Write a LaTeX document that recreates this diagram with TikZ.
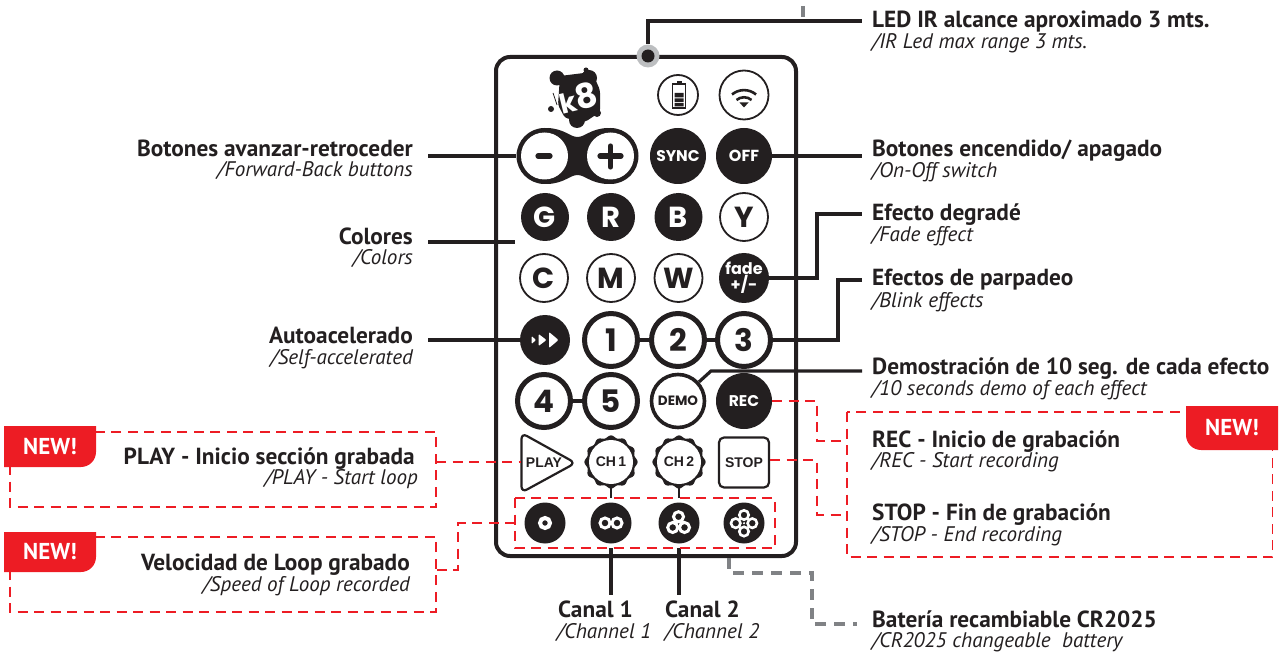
\documentclass[tikz,border=0pt]{standalone}
\usepackage{fontspec}
\setmainfont{PT Sans}
\newfontfamily\btnfont{Poppins}
\newfontfamily\arialfont{Liberation Sans}
\definecolor{inkdark}{HTML}{231F20}
\definecolor{newred}{HTML}{ED1C24}
\definecolor{midgrey}{HTML}{808285}
\definecolor{ledgrey}{HTML}{BCBEC0}
\tikzset{
  lead/.style={draw=inkdark,line width=3.2},
  redlead/.style={draw=newred,line width=1.8,dash pattern=on 10 off 6.5},
  greylead/.style={draw=midgrey,line width=3.6,dash pattern=on 11 off 8},
  headl/.style={inner sep=0,anchor=base east,text=inkdark,font=\fontsize{23.3}{25}\selectfont\bfseries},
  subl/.style={inner sep=0,anchor=base east,text=inkdark,font=\fontsize{21.1}{23}\selectfont\itshape},
  headr/.style={headl,anchor=base west},
  subr/.style={subl,anchor=base west},
  newtag/.style={inner sep=0,text=white,font=\fontsize{23}{25}\selectfont\bfseries},
  btn/.style={circle,inner sep=0,minimum size=#1,font=\btnfont\bfseries},
  solidbtn/.style={btn=#1,fill=inkdark,text=white},
  thinbtn/.style={btn=#1,draw=inkdark,line width=1.8,text=inkdark,fill=white},
  fatbtn/.style={btn=#1,draw=inkdark,line width=5,text=inkdark,fill=white},
  ringw/.style={draw=white,line width=3},
  keyfont/.style={font=\btnfont\bfseries\fontsize{29}{29}\selectfont},
  digitfont/.style={font=\btnfont\bfseries\fontsize{31}{31}\selectfont},
  dialfont/.style={inner sep=0,text=inkdark,font=\arialfont\bfseries\fontsize{14}{14}\selectfont},
}
\begin{document}
\begin{tikzpicture}[x=1pt,y=-1pt]
\useasboundingbox (0,0) rectangle (1280,652);

% Remote body
\draw[inkdark,line width=4,rounded corners=14] (496,57) rectangle (796,556);
\draw[midgrey,line width=4] (802.5,6) -- (802.5,17);

% IR led
\node[circle,fill=ledgrey,minimum size=23,inner sep=0] (ledring) at (648,56) {};
\node[circle,fill=inkdark,minimum size=13,inner sep=0] (led) at (648,56) {};
\coordinate (ledend) at (862,21);
\draw[lead] (ledring) |- (ledend);

% Logo
\fill[inkdark] (557,78) circle (7.5) (589,78) circle (8) (586,70) circle (2.5)
  (551,109) circle (3) (597,113) circle (4) (577,120) circle (8);
\fill[inkdark,rounded corners=3] (560,76) -- (592,72) -- (600,90) -- (600,112) -- (585,122) -- (565,118) -- (558,105) -- cycle;
\draw[inkdark,line width=.8] (553,93) -- (557,105);
\node[text=white,rotate=14,inner sep=0,font=\btnfont\bfseries] (logo) at (578.5,98) {\fontsize{27}{27}\selectfont k\fontsize{34}{34}\selectfont 8};

% Battery and signal
\node[thinbtn=40] (battery) at (678,95) {};
\draw[inkdark,line width=1.2] (672.5,84) rectangle (685.5,108);
\fill[inkdark] (676.5,81.5) rectangle (681.5,84);
\fill[inkdark] (674.5,93) rectangle (683.5,97.5) (674.5,98.5) rectangle (683.5,102) (674.5,103) rectangle (683.5,106.5);
\node[thinbtn=49] (signal) at (744,95) {};
\draw[inkdark,line width=2.6] (732,94.5) arc[start angle=-130,end angle=-50,radius=18.7];
\draw[inkdark,line width=2.6] (736.5,100) arc[start angle=-130,end angle=-50,radius=11.7];
\fill[inkdark] (739.5,102.5) -- (748.5,102.5) -- (744,107.5) -- cycle;

% Forward and back
\fill[inkdark] (548,128) .. controls (565,129) and (570,137) .. (577.5,137) .. controls (585,137) and (590,129) .. (607,128)
  -- (607,184) .. controls (590,183) and (585,175) .. (577.5,175) .. controls (570,175) and (565,183) .. (548,184) -- cycle;
\node[circle,fill=inkdark,minimum size=56,inner sep=0] (minus) at (544.5,156) {};
\node[circle,fill=inkdark,minimum size=56,inner sep=0] (plus) at (610.5,156) {};
\fill[white] (minus) circle (23.5) (plus) circle (23.5);
\draw[inkdark,line width=5.2,line cap=round] (538,156) -- (550,156);
\draw[inkdark,line width=5.2,line cap=round] (600,156) -- (621,156) (610.5,146) -- (610.5,167);
\node[solidbtn=56,font=\btnfont\bfseries\fontsize{15.5}{16}\selectfont] (sync) at (678,156) {SYNC};
\node[solidbtn=56,font=\btnfont\bfseries\fontsize{16}{16}\selectfont] (off) at (744,156) {OFF};

% Colours
\node[solidbtn=48,keyfont] (gbtn) at (545,217) {G};
\node[solidbtn=48,keyfont] (rbtn) at (611,217) {R};
\node[solidbtn=48,keyfont] (bbtn) at (678.5,217) {B};
\node[thinbtn=48,keyfont] (ybtn) at (744,217) {Y};
\node[thinbtn=48,keyfont] (cbtn) at (544,278) {C};
\node[thinbtn=48,keyfont] (mbtn) at (611,278) {M};
\node[thinbtn=48,keyfont] (wbtn) at (678.5,278) {W};
\node[solidbtn=50,align=center,font=\btnfont\bfseries\fontsize{16}{15}\selectfont] (fade) at (744,278) {fade\\+/-};

% Blink effects
\draw[lead] (611,340) -- (744,340) (544,401) -- (611,401);
\node[solidbtn=50] (accel) at (545,340) {};
\fill[white,rounded corners=1] (531.5,336) -- (536,340) -- (531.5,344) -- cycle;
\fill[white,rounded corners=1] (538.5,334) -- (546.5,340) -- (538.5,346) -- cycle;
\fill[white,rounded corners=1] (549,332) -- (558.5,340) -- (549,348) -- cycle;
\node[fatbtn=53,digitfont] (one) at (611,340) {1};
\node[fatbtn=53,digitfont] (two) at (678,340) {2};
\node[fatbtn=53,digitfont] (three) at (744,340) {3};
\node[fatbtn=53,digitfont] (four) at (544,401) {4};
\node[fatbtn=53,digitfont] (five) at (611,401) {5};
\node[btn=53,draw=inkdark,line width=3.6,text=inkdark,fill=white,font=\btnfont\bfseries\fontsize{13.5}{14}\selectfont] (demo) at (678,401) {DEMO};
\node[solidbtn=56,font=\btnfont\bfseries\fontsize{15.5}{16}\selectfont] (rec) at (744,401) {REC};

% Loop row
\draw[inkdark,line width=2.2,rounded corners=6] (521.5,433) -- (575.5,463) -- (521.5,492.5) -- cycle;
\node[dialfont] (play) at (544,463) {PLAY};
\draw[lead,line width=2.8] (611,487) -- (611,498) (679,487) -- (679,498);
\fill[inkdark,shift={(611,462)}] plot[domain=0:360,samples=145,smooth] ({(25.4+1.2*cos(12*\x))*cos(\x)},{(25.4+1.2*cos(12*\x))*sin(\x)}) -- cycle;
\fill[inkdark,shift={(679,462)}] plot[domain=0:360,samples=145,smooth] ({(25.4+1.2*cos(12*\x))*cos(\x)},{(25.4+1.2*cos(12*\x))*sin(\x)}) -- cycle;
\node[circle,fill=white,minimum size=44,dialfont] (chone) at (611,462) {CH\,1};
\node[circle,fill=white,minimum size=44,dialfont] (chtwo) at (679,462) {CH\,2};
\node[draw=inkdark,line width=2.2,rounded corners=5,minimum width=50,minimum height=50,dialfont] (stop) at (744,462.5) {STOP};

% Speed buttons
\node[solidbtn=41] (speeda) at (545,523) {};
\node[solidbtn=41] (speedb) at (611,523) {};
\node[solidbtn=41] (speedc) at (679,523) {};
\node[solidbtn=41] (speedd) at (744,523) {};
\draw[ringw,line width=4] (545,523) circle (5);
\draw[ringw] (605,523) circle (5) (617,523) circle (5);
\draw[ringw] (678.5,516.7) circle (5) (672.7,527.5) circle (5) (684.5,527.5) circle (5);
\draw[ringw,line width=2.6] (744,515) circle (4.7) (735.7,523.2) circle (4.7) (752.3,523.2) circle (4.7) (744,531.5) circle (4.7);
\fill[white] (744,523.2) circle (1.2);

% Solid leaders
\coordinate (backend) at (428,156);
\coordinate (colourend) at (515,242);
\coordinate (colourstart) at (428,242);
\coordinate (offend) at (862,156);
\coordinate (fadeend) at (862,214);
\coordinate (blinkend) at (862,280);
\coordinate (accelend) at (428,340);
\coordinate (demoend) at (862,371);
\coordinate (demoknee) at (711,371);
\coordinate (chaend) at (611,595);
\coordinate (chbend) at (679,595);
\coordinate (chastart) at (611,548);
\coordinate (chbstart) at (679,548);
\draw[lead] (backend) -- (minus);
\draw[lead] (colourstart) -- (colourend);
\draw[lead] (off) -- (offend);
\draw[lead] (fade) -| (817,214) -- (fadeend);
\draw[lead] (three) -| (838,280) -- (blinkend);
\draw[lead] (accelend) -- (accel);
\draw[lead] (demo) -- (demoknee) -- (demoend);
\draw[lead] (chastart) -- (chaend);
\draw[lead] (chbstart) -- (chbend);

% Red leaders
\coordinate (playbox) at (436,462);
\coordinate (playtip) at (521,462);
\coordinate (speedbox) at (515,523);
\coordinate (speedlabel) at (436,570);
\coordinate (recbox) at (847,441);
\coordinate (stopbox) at (847,515);
\coordinate (stopout) at (770,460);
\draw[redlead] (playbox) -- (playtip);
\draw[redlead] (speedbox) -- (458,523) -- (458,570) -- (speedlabel);
\draw[redlead] (rec) -- (817,401) -- (817,441) -- (recbox);
\draw[redlead] (stopout) -- (817,460) -- (817,515) -- (stopbox);
\draw[redlead] (515,498) rectangle (775,548);
\draw[redlead] (10,432) rectangle (436,507);
\draw[redlead] (10,537) rectangle (436,612);
\draw[redlead] (847,412) rectangle (1272.5,557);

% Battery leader
\coordinate (cellend) at (857,624);
\draw[greylead] (729,558) -- (729,573) -- (812,573) -- (812,624) -- (cellend);

% New tags
\fill[newred] (4,426) -- (96,426) -- (96,452) arc[start angle=0,end angle=90,radius=15] -- (4,467) -- cycle;
\node[newtag] (newa) at (50,447) {NEW!};
\fill[newred] (4,532) -- (96,532) -- (96,557) arc[start angle=0,end angle=90,radius=15] -- (4,572) -- cycle;
\node[newtag] (newb) at (50,552) {NEW!};
\fill[newred] (1278,406) -- (1186,406) -- (1186,435) arc[start angle=180,end angle=90,radius=15] -- (1278,450) -- cycle;
\node[newtag] (newc) at (1232,428) {NEW!};

% Left labels
\node[headl] (backlabel) at (413,156.5) {Botones avanzar-retroceder};
\node[subl] (backsub) at (413,177) {/Forward-Back buttons};
\node[headl] (colourlabel) at (413,244.5) {Colores};
\node[subl] (coloursub) at (413,265) {/Colors};
\node[headl] (accellabel) at (413,343.5) {Autoacelerado};
\node[subl] (accelsub) at (413,364) {/Self-accelerated};
\node[headl] (playlabel) at (415,464) {PLAY - Inicio sección grabada};
\node[subl] (playsub) at (418,484.5) {/PLAY - Start loop};
\node[headl] (speedlabeltext) at (410,570) {Velocidad de Loop grabado};
\node[subl] (speedsub) at (410,591) {/Speed of Loop recorded};

% Right labels
\node[headr] (ledlabel) at (872,28) {LED IR alcance aproximado 3 mts.};
\node[subr] (ledsub) at (872,48.5) {/IR Led max range 3 mts.};
\node[headr] (offlabel) at (872,157) {Botones encendido/ apagado};
\node[subr] (offsub) at (872,177.5) {/On-Off switch};
\node[headr] (fadelabel) at (872,221) {Efecto degradé};
\node[subr] (fadesub) at (872,241.5) {/Fade effect};
\node[headr] (blinklabel) at (872,286) {Efectos de parpadeo};
\node[subr] (blinksub) at (872,307.5) {/Blink effects};
\node[headr] (demolabel) at (872,374) {Demostración de 10 seg. de cada efecto};
\node[subr] (demosub) at (872,395) {/10 seconds demo of each effect};
\node[headr] (reclabel) at (872,447) {REC - Inicio de grabación};
\node[subr] (recsub) at (872,467.5) {/REC - Start recording};
\node[headr] (stoplabel) at (872,520) {STOP - Fin de grabación};
\node[subr] (stopsub) at (872,541.5) {/STOP - End recording};
\node[headr] (celllabel) at (872,627) {Batería recambiable CR2025};
\node[subr] (cellsub) at (872,647) {/CR2025 changeable\ \ battery};

% Channel labels
\node[headr] (chalabel) at (558,617) {Canal 1};
\node[subr] (chasub) at (557,638) {/Channel 1};
\node[headr] (chblabel) at (665,617) {Canal 2};
\node[subr] (chbsub) at (665,638) {/Channel 2};

\end{tikzpicture}
\end{document}
